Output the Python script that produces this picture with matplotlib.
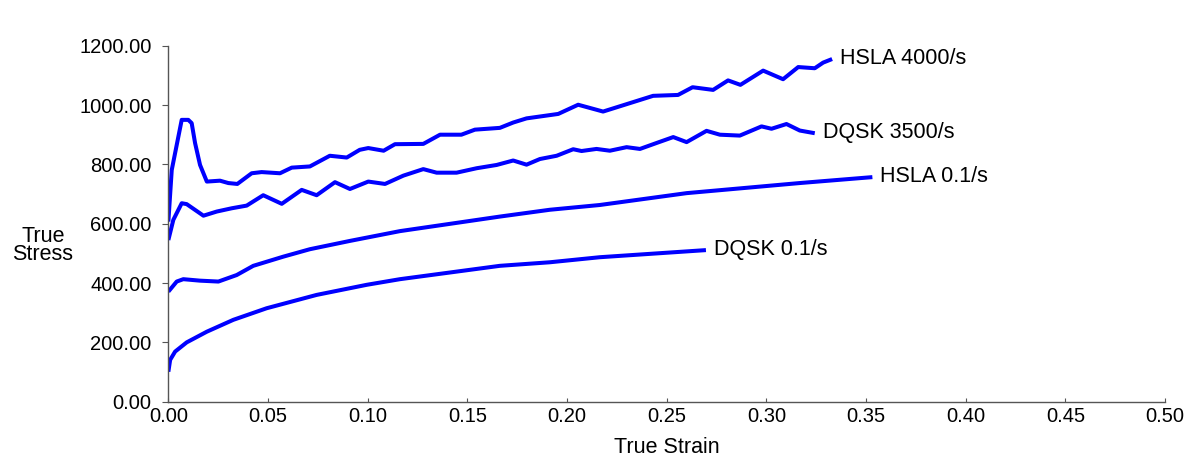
import numpy as np
import matplotlib.pyplot as plt

plt.rcParams['font.family'] = ['Liberation Sans', 'DejaVu Sans']

# ── Data ─────────────────────────────────────────────────────────────────────
hsla_4000_strain = [0.0, 0.0017, 0.0067, 0.010, 0.0117, 0.0134, 0.0159, 0.0193,
                    0.0259, 0.0301, 0.0346, 0.0418, 0.0468, 0.056, 0.0619, 0.071,
                    0.081, 0.0895, 0.096, 0.1003, 0.108, 0.1137, 0.1279, 0.1363,
                    0.147, 0.1538, 0.1663, 0.173, 0.1797, 0.1956, 0.2056, 0.2181,
                    0.2432, 0.2557, 0.263, 0.2733, 0.2808, 0.287, 0.2984, 0.3084,
                    0.316, 0.3243, 0.3285, 0.333]
hsla_4000_stress = [607, 781, 950, 950, 939, 872, 798, 742,
                    745, 737, 734, 770, 774, 770, 789, 793,
                    829, 823, 849, 855, 846, 868, 869, 900,
                    900, 917, 923, 941, 955, 970, 1001, 978,
                    1031, 1034, 1060, 1051, 1083, 1068, 1116, 1087,
                    1128, 1124, 1143, 1155]

dqsk_3500_strain = [0.0, 0.0025, 0.0067, 0.0092, 0.0176, 0.0243, 0.0318, 0.0393,
                    0.0476, 0.0569, 0.0669, 0.0744, 0.0836, 0.0911, 0.1003, 0.1087,
                    0.1179, 0.1279, 0.1346, 0.1446, 0.1547, 0.1647, 0.173, 0.1797,
                    0.1864, 0.1948, 0.2031, 0.2073, 0.2148, 0.2215, 0.2299, 0.2366,
                    0.2449, 0.2533, 0.26, 0.27, 0.2767, 0.2867, 0.2976, 0.3026,
                    0.3101, 0.3168, 0.3243]
dqsk_3500_stress = [545, 613, 669, 666, 627, 641, 652, 661,
                    696, 667, 714, 696, 740, 717, 742, 734,
                    762, 784, 772, 772, 787, 798, 813, 799,
                    818, 829, 851, 845, 852, 846, 858, 852,
                    872, 892, 875, 913, 900, 897, 928, 920,
                    936, 914, 905]

hsla_01_strain = [0.0, 0.0042, 0.0075, 0.0159, 0.0251, 0.0343, 0.0426, 0.0577,
                  0.071, 0.0911, 0.1162, 0.1663, 0.1914, 0.2164, 0.26, 0.3167,
                  0.3532]
hsla_01_stress = [371, 405, 413, 408, 405, 427, 458, 489,
                  514, 542, 575, 624, 647, 663, 703, 737,
                  757]

dqsk_01_strain = [0.0, 0.0009, 0.0034, 0.0092, 0.0193, 0.0326, 0.0493, 0.0744,
                  0.0995, 0.1162, 0.1663, 0.1914, 0.2164, 0.2697]
dqsk_01_stress = [101, 141, 169, 200, 236, 276, 315, 360,
                  394, 413, 458, 470, 487, 511]

series = [
    ('HSLA 4000/s', hsla_4000_strain, hsla_4000_stress),
    ('DQSK 3500/s', dqsk_3500_strain, dqsk_3500_stress),
    ('HSLA 0.1/s', hsla_01_strain, hsla_01_stress),
    ('DQSK 0.1/s', dqsk_01_strain, dqsk_01_stress),
]

x_ticks = np.arange(0, 0.501, 0.05)
y_ticks = np.arange(0, 1201, 200)

# ── Figure ───────────────────────────────────────────────────────────────────
fig = plt.figure(figsize=(11.94, 4.75), dpi=100)
ax = fig.add_axes([0.141, 0.1543, 0.8347, 0.7495])

for name, xs, ys in series:
    ax.plot(xs, ys, color='#0000ff', linewidth=2.9, solid_joinstyle='round',
            solid_capstyle='butt')
    ax.annotate(name, xy=(xs[-1], ys[-1]), xytext=(8, 1), textcoords='offset pixels',
                fontsize=15.5, va='center', ha='left')

ax.set_xlim(0, 0.5)
ax.set_ylim(0, 1200)
ax.set_xticks(x_ticks)
ax.set_xticklabels([f'{v:.2f}' for v in x_ticks], fontsize=14.5)
ax.set_yticks(y_ticks)
ax.set_yticklabels([f'{v:.2f}' for v in y_ticks], fontsize=14.5)

ax.tick_params(axis='x', direction='in', length=3, width=0.8, color='#555555', pad=4)
ax.tick_params(axis='y', direction='out', length=4, width=0.8, color='#555555', pad=8)

for side in ('top', 'right'):
    ax.spines[side].set_visible(False)
for side in ('left', 'bottom'):
    ax.spines[side].set_color('#555555')
    ax.spines[side].set_linewidth(1.0)

ax.set_xlabel('True Strain', fontsize=15.5, labelpad=8)
fig.text(0.036, 0.483, 'True\nStress', fontsize=15.5, ha='center', va='center',
         linespacing=0.8)

fig.savefig('out.png', dpi=100)
